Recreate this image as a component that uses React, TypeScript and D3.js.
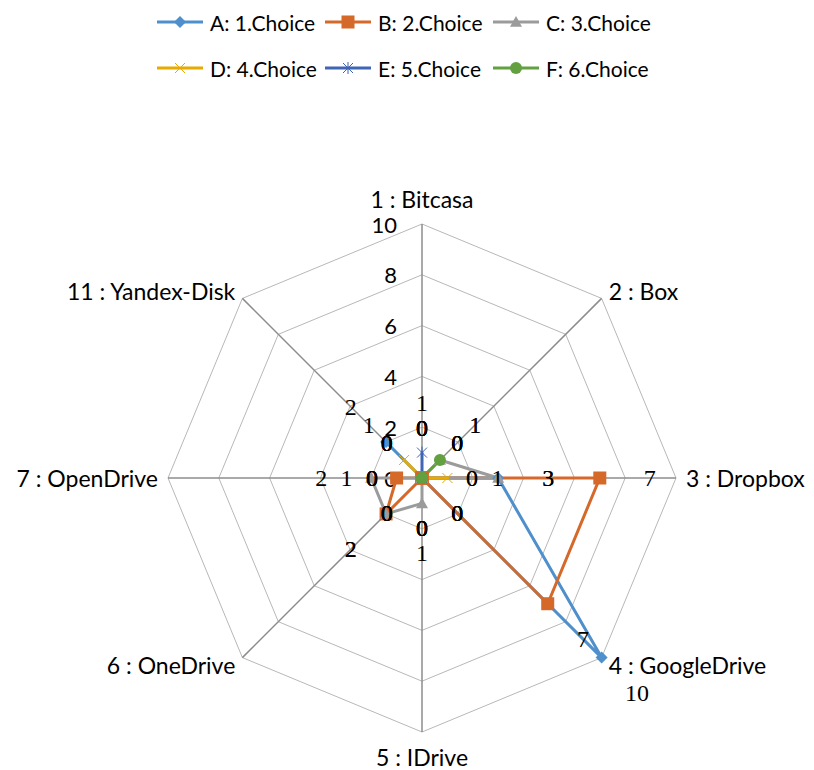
import * as React from "react"
import * as d3 from "d3"

const categories = [
  "1 : Bitcasa",
  "2 : Box",
  "3 : Dropbox",
  "4 : GoogleDrive",
  "5 : IDrive",
  "6 : OneDrive",
  "7 : OpenDrive",
  "11 : Yandex-Disk",
]
const seriesNames = ["A: 1.Choice", "B: 2.Choice", "C: 3.Choice", "D: 4.Choice", "E: 5.Choice", "F: 6.Choice"]
const seriesA = [0, 0, 3, 10, 0, 0, 0, 2]
const seriesB = [0, 0, 7, 7, 0, 2, 1, 0]
const seriesC = [0, 1, 3, 0, 1, 2, 2, 0]
const seriesD = [0, 0, 1, 0, 0, 0, 0, 1]
const seriesE = [1, 0, 0, 0, 0, 0, 0, 0]
const seriesF = [0, 1, 0, 0, 0, 0, 0, 0]
const tickValues = [0, 2, 4, 6, 8, 10]

const colors = ["#4f8fcb", "#d5692a", "#9b9b9b", "#e6aa00", "#3f65b5", "#62a040"]
const markers = ["diamond", "square", "triangle", "x", "star", "circle"]

const W = 814
const H = 770
const cx = 422
const cy = 478
const R = 254

const sansFont = "Lato, 'Liberation Sans', sans-serif"
const serifFont = "'Liberation Serif', serif"

function Marker({ kind, x, y, color }: { kind: string; x: number; y: number; color: string }) {
  if (kind === "diamond") {
    const s = 6
    return <path d={`M${x},${y - s}L${x + s},${y}L${x},${y + s}L${x - s},${y}Z`} fill={color} />
  }
  if (kind === "square") {
    const s = 6.5
    return <rect x={x - s} y={y - s} width={s * 2} height={s * 2} fill={color} />
  }
  if (kind === "triangle") {
    const s = 6
    return <path d={`M${x},${y - s}L${x + s},${y + s * 0.8}L${x - s},${y + s * 0.8}Z`} fill={color} />
  }
  if (kind === "x") {
    const s = 5
    return (
      <path
        d={`M${x - s},${y - s}L${x + s},${y + s}M${x + s},${y - s}L${x - s},${y + s}`}
        stroke={color}
        strokeWidth={1}
      />
    )
  }
  if (kind === "star") {
    const s = 5
    return (
      <path
        d={`M${x - s},${y - s}L${x + s},${y + s}M${x + s},${y - s}L${x - s},${y + s}M${x},${y - s - 1}L${x},${y + s + 1}`}
        stroke={color}
        strokeWidth={1}
      />
    )
  }
  return <circle cx={x} cy={y} r={6} fill={color} />
}

export default function App() {
  const series = [seriesA, seriesB, seriesC, seriesD, seriesE, seriesF]
  const r = d3.scaleLinear().domain([0, 10]).range([0, R])
  const ang = (i: number) => (i * 2 * Math.PI) / categories.length
  const px = (i: number, rad: number) => cx + rad * Math.sin(ang(i))
  const py = (i: number, rad: number) => cy - rad * Math.cos(ang(i))

  const rings = tickValues.filter((t) => t > 0)
  const line = d3
    .lineRadial<number>()
    .angle((_, i) => ang(i))
    .radius((d) => r(d))
    .curve(d3.curveLinearClosed)

  return (
    <svg width={W} height={H} style={{ position: "absolute", left: 0, top: 0, background: "#fff" }}>
      {/* grid rings */}
      {rings.map((t) => (
        <path
          key={t}
          d={line(categories.map(() => t)) || ""}
          transform={`translate(${cx},${cy})`}
          fill="none"
          stroke="#b8b8b8"
          strokeWidth={1}
        />
      ))}
      {/* spokes */}
      {categories.map((_, i) => (
        <line key={i} x1={cx} y1={cy} x2={px(i, R)} y2={py(i, R)} stroke="#8c8c8c" strokeWidth={1.5} />
      ))}
      {/* tick labels */}
      {tickValues.map((t) => (
        <text
          key={t}
          x={cx - 25}
          y={cy - r(t)}
          textAnchor="end"
          dominantBaseline="central"
          fontFamily={sansFont}
          fontSize={22}
          fill="#000"
        >
          {t}
        </text>
      ))}
      {/* category labels */}
      {categories.map((c, i) => {
        const s = Math.sin(ang(i))
        const co = Math.cos(ang(i))
        const vertical = Math.abs(s) < 0.01
        const x = px(i, R + 10)
        const y = py(i, R + 10) - (vertical ? co * 15 : 0)
        return (
          <text
            key={c}
            x={x}
            y={y}
            textAnchor={vertical ? "middle" : s > 0 ? "start" : "end"}
            dominantBaseline="central"
            fontFamily={sansFont}
            fontSize={23}
            fill="#000"
          >
            {c}
          </text>
        )
      })}
      {/* series lines */}
      {series.map((vals, si) => (
        <path
          key={si}
          d={line(vals) || ""}
          transform={`translate(${cx},${cy})`}
          fill="none"
          stroke={colors[si]}
          strokeWidth={3}
          strokeLinejoin="round"
        />
      ))}
      {/* markers */}
      {series.map((vals, si) =>
        vals.map((v, i) => (
          <Marker key={`${si}-${i}`} kind={markers[si]} x={px(i, r(v))} y={py(i, r(v))} color={colors[si]} />
        ))
      )}
      {/* data labels */}
      {series.map((vals, si) =>
        vals.map((v, i) => (
          <text
            key={`l${si}-${i}`}
            x={px(i, r(v) + 50)}
            y={py(i, r(v) + 50)}
            textAnchor="middle"
            dominantBaseline="central"
            fontFamily={serifFont}
            fontSize={24}
            fill="#000"
          >
            {v}
          </text>
        ))
      )}
      {/* legend */}
      {seriesNames.map((name, si) => {
        const col = si % 3
        const row = Math.floor(si / 3)
        const x0 = 157 + col * 168
        const y0 = 22 + row * 46
        return (
          <g key={name}>
            <line x1={x0} y1={y0} x2={x0 + 46} y2={y0} stroke={colors[si]} strokeWidth={3} />
            <Marker kind={markers[si]} x={x0 + 23} y={y0} color={colors[si]} />
            <text x={x0 + 53} y={y0} dominantBaseline="central" fontFamily={sansFont} fontSize={21} fill="#000">
              {name}
            </text>
          </g>
        )
      })}
    </svg>
  )
}
